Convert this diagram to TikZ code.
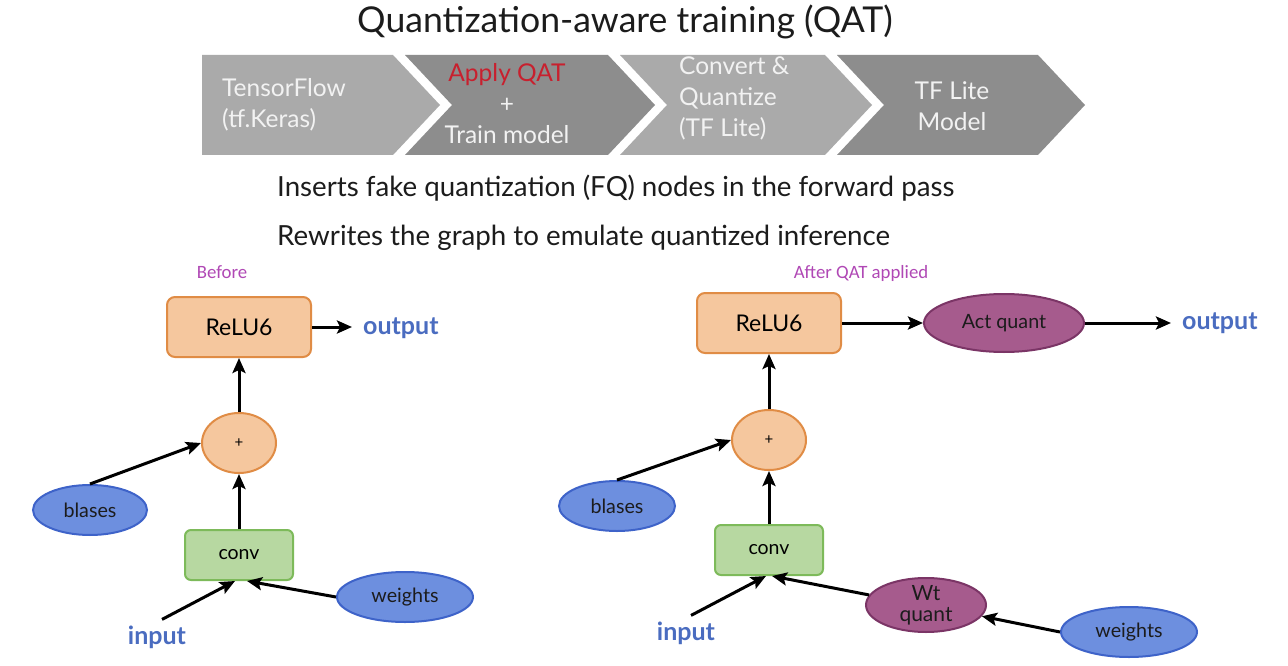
\documentclass[tikz,border=0pt]{standalone}
\usepackage{fontspec}
\setmainfont{Lato}
\newfontfamily\notefont{Carlito}
\usepackage{xcolor}
\usepackage{tikz}
\usetikzlibrary{shapes.geometric, arrows.meta, positioning}
\definecolor{titlegray}{HTML}{1C1C1C}
\definecolor{stagelight}{HTML}{AAAAAA}
\definecolor{stagedark}{HTML}{8D8D8D}
\definecolor{stagetext}{HTML}{F2F2F2}
\definecolor{qatred}{HTML}{C8202E}
\definecolor{relufill}{HTML}{F5C79E}
\definecolor{reluedge}{HTML}{E08C45}
\definecolor{convfill}{HTML}{B7D8A1}
\definecolor{convedge}{HTML}{7DBA5A}
\definecolor{tensorfill}{HTML}{6D8FDF}
\definecolor{tensoredge}{HTML}{3E63C9}
\definecolor{fqfill}{HTML}{A65B8D}
\definecolor{fqedge}{HTML}{7B3566}
\definecolor{iotext}{HTML}{4A6CC0}
\definecolor{notepurple}{HTML}{B048B5}
\tikzset{stage/.style={text=stagetext,align=center,inner sep=0pt,font=\fontsize{24.5}{31}\selectfont},
         subline/.style={text=titlegray,inner sep=0pt,anchor=west,font=\fontsize{27.7}{32}\selectfont},
         caption/.style={text=notepurple,font=\notefont\fontsize{18.8}{22}\selectfont},
         opbox/.style={rectangle,draw=reluedge,fill=relufill,line width=2pt,rounded corners=8pt,minimum width=144pt,minimum height=60pt,font=\fontsize{23}{27}\selectfont},
         addop/.style={ellipse,draw=reluedge,fill=relufill,line width=2pt,minimum width=74pt,minimum height=60pt,inner sep=0pt,font=\fontsize{15}{17}\selectfont},
         convbox/.style={rectangle,draw=convedge,fill=convfill,line width=2pt,rounded corners=6pt,minimum width=108pt,minimum height=50pt,font=\fontsize{19.5}{22}\selectfont},
         tensor/.style={ellipse,draw=tensoredge,fill=tensorfill,line width=2pt,minimum height=50pt,inner sep=0pt,text=titlegray,font=\fontsize{19.7}{22}\selectfont},
         fq/.style={ellipse,draw=fqedge,fill=fqfill,line width=2pt,minimum height=50pt,inner sep=0pt,text=titlegray,font=\fontsize{19.7}{22}\selectfont},
         fqtext/.style={align=center,inner sep=0pt,text=titlegray,font=\fontsize{21}{21}\selectfont},
         io/.style={text=iotext,inner sep=0pt,font=\bfseries\fontsize{25}{28}\selectfont},
         arrow/.style={-{Stealth[length=15pt,width=13pt,inset=3pt]},line width=3pt}}
\begin{document}
\begin{tikzpicture}[x=1pt,y=-1pt]
  \useasboundingbox[fill=white] (0,0) rectangle (1288,666);
  \node (title) [text=titlegray,font=\fontsize{35.6}{40}\selectfont] at (625,22) {Quantization-aware training (QAT)};
  % pipeline chevrons
  \fill[stagelight] (202,55) -- (393,55) -- (440,105) -- (393,155) -- (202,155) -- cycle;
  \fill[stagedark] (405,55) -- (608,55) -- (655,105) -- (608,155) -- (405,155) -- (452,105) -- cycle;
  \fill[stagelight] (620,55) -- (825,55) -- (872,105) -- (825,155) -- (620,155) -- (667,105) -- cycle;
  \fill[stagedark] (837,55) -- (1038,55) -- (1085,105) -- (1038,155) -- (837,155) -- (884,105) -- cycle;
  \node (tfkeras) [stage,anchor=west,align=left] at (222,105) {TensorFlow\\(tf.Keras)};
  \node (applyqat) [stage] at (507,104) {\textcolor{qatred}{Apply QAT}\\+\\Train model};
  \node (convert) [stage,anchor=west,align=left] at (679,98) {Convert \&\\Quantize\\(TF Lite)};
  \node (tflite) [stage] at (952,106) {TF Lite\\Model};
  \node (inserts) [subline] at (277,188) {Inserts fake quantization (FQ) nodes in the forward pass};
  \node (rewrites) [subline] at (277,238) {Rewrites the graph to emulate quantized inference};
  \node (before) [caption] at (222,272) {Before};
  \node (after) [caption] at (861,273) {After QAT applied};
  % before graph
  \node (reluL) [opbox] at (239,327) {ReLU6};
  \node (outL) [io,anchor=west] at (363,328) {output};
  \node (addL) [addop] at (239,443) {+};
  \node (biasL) [tensor,minimum width=114pt] at (90,510) {blases};
  \node (convL) [convbox] at (239,555) {conv};
  \node (wL) [tensor,minimum width=136pt] at (405,597) {weights};
  \node (inL) [io] at (157,637) {input};
  \draw[arrow,shorten >=11pt] (reluL.east) -- (reluL.east -| outL.west);
  \draw[arrow] (addL) -- (reluL);
  \draw[arrow] (convL) -- (addL);
  \draw[arrow] (biasL.north) -- (addL.west);
  \draw[arrow] (wL.west) -- ([xshift=8pt]convL.south);
  \draw[arrow] ([shift={(5,-6)}]inL.north) -- ([xshift=-4pt]convL.south);
  % after graph
  \node (reluR) [opbox] at (769,323) {ReLU6};
  \node (actq) [fq,minimum width=160pt,minimum height=58pt] at (1004,323) {Act quant};
  \node (outR) [io,anchor=west] at (1182,323) {output};
  \node (addR) [addop] at (769,440) {+};
  \node (biasR) [tensor,minimum width=116pt] at (617,506) {blases};
  \node (convR) [convbox] at (769,550) {conv};
  \node (wq) [fq,minimum width=120pt,minimum height=54pt,label={[fqtext]center:Wt\\quant}] at (926,605) {};
  \node (wR) [tensor,minimum width=136pt] at (1129,632) {weights};
  \node (inR) [io] at (686,633) {input};
  \draw[arrow] (reluR) -- (actq);
  \draw[arrow,shorten >=11pt] (actq.east) -- (actq.east -| outR.west);
  \draw[arrow] (addR) -- (reluR);
  \draw[arrow] (convR) -- (addR);
  \draw[arrow] (biasR.north) -- (addR.west);
  \draw[arrow] (wR.west) -- (wq);
  \draw[arrow] (wq.170) -- ([xshift=3pt]convR.south);
  \draw[arrow] ([shift={(5,-6)}]inR.north) -- ([xshift=-3pt]convR.south);
\end{tikzpicture}
\end{document}
